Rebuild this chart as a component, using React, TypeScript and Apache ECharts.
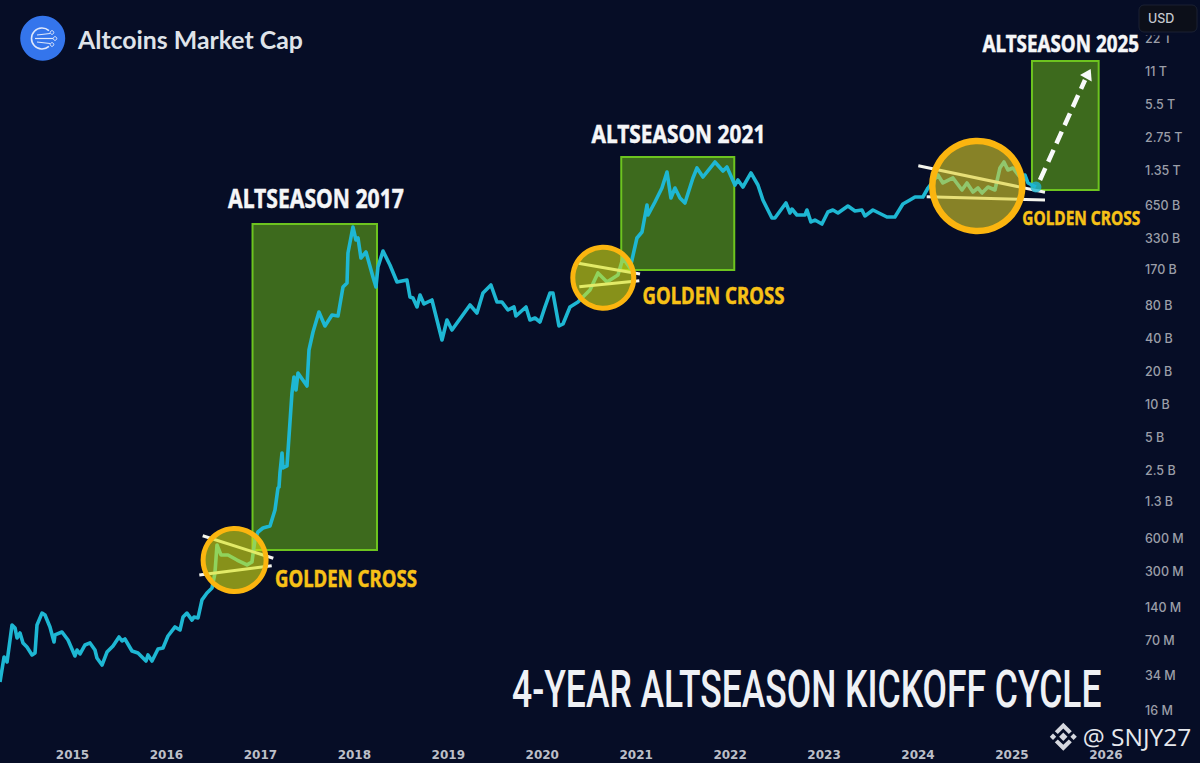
import React, { useEffect, useRef } from "react";
import * as echarts from "echarts";

const BG = "#060d26";
const LINE = "#1eb7d3";

// Decimal years of each point of the altcoin market cap line
const years = [
  2014.228, 2014.271, 2014.303, 2014.356, 2014.388, 2014.409, 2014.441, 2014.473, 2014.515, 2014.569,
  2014.601, 2014.622, 2014.675, 2014.707, 2014.76, 2014.803, 2014.813, 2014.888, 2014.952, 2015.026,
  2015.048, 2015.08, 2015.133, 2015.186, 2015.239, 2015.26, 2015.314, 2015.367, 2015.431, 2015.495,
  2015.527, 2015.558, 2015.633, 2015.697, 2015.782, 2015.803, 2015.846, 2015.91, 2015.963, 2016.016,
  2016.091, 2016.144, 2016.176, 2016.218, 2016.272, 2016.293, 2016.336, 2016.378, 2016.431, 2016.485,
  2016.516, 2016.538, 2016.58, 2016.655, 2016.751, 2016.857, 2016.91, 2016.942, 2016.974, 2017.027,
  2017.102, 2017.155, 2017.187, 2017.198, 2017.208, 2017.23, 2017.24, 2017.283, 2017.336, 2017.357,
  2017.379, 2017.4, 2017.496, 2017.517, 2017.56, 2017.623, 2017.687, 2017.762, 2017.826, 2017.879,
  2017.922, 2017.932, 2017.985, 2018.017, 2018.039, 2018.07, 2018.124, 2018.198, 2018.23, 2018.251,
  2018.305, 2018.379, 2018.454, 2018.56, 2018.592, 2018.624, 2018.667, 2018.699, 2018.741, 2018.826,
  2018.933, 2018.986, 2019.039, 2019.231, 2019.305, 2019.369, 2019.454, 2019.518, 2019.571, 2019.635,
  2019.699, 2019.72, 2019.827, 2019.869, 2019.923, 2019.976, 2020.029, 2020.082, 2020.114, 2020.178,
  2020.221, 2020.295, 2020.38, 2020.508, 2020.593, 2020.689, 2020.806, 2020.859, 2020.934, 2020.955,
  2021.008, 2021.062, 2021.115, 2021.126, 2021.2, 2021.274, 2021.328, 2021.37, 2021.413, 2021.466,
  2021.519, 2021.604, 2021.647, 2021.711, 2021.838, 2021.924, 2021.966, 2022.051, 2022.083, 2022.136,
  2022.222, 2022.296, 2022.349, 2022.445, 2022.477, 2022.594, 2022.637, 2022.658, 2022.711, 2022.797,
  2022.818, 2022.86, 2022.903, 2022.977, 2023.041, 2023.094, 2023.148, 2023.254, 2023.329, 2023.403,
  2023.435, 2023.52, 2023.669, 2023.754, 2023.839, 2023.914, 2023.968, 2024.052, 2024.106, 2024.212,
  2024.265, 2024.372, 2024.468, 2024.521, 2024.585, 2024.638, 2024.681, 2024.745, 2024.819, 2024.872,
  2024.915, 2024.957, 2025.01, 2025.085, 2025.138, 2025.17, 2025.255,
];

// Market cap in millions of USD
const capMillions = [
  29.4, 49.7, 44.8, 97.4, 91.5, 74.1, 82.4, 66.8, 61.3, 51.9,
  54.1, 97.4, 125, 120, 93.4, 68.2, 79, 84.1, 71.1, 50.8,
  57.6, 53, 64, 66.8, 57.6, 48.7, 42, 55.2, 62.7, 75.7,
  69.6, 72.6, 56.4, 54.1, 45.7, 51.9, 45.7, 58.8, 60.1, 77.3,
  93.4, 87.7, 115, 125, 108, 115, 113, 165, 191, 212,
  290, 523, 424, 424, 381, 344, 366, 581, 687, 747,
  779, 1091, 1731, 1767, 2372, 3611, 2636, 2748, 12730, 17830,
  13560, 19380, 14750, 31410, 45840, 69800, 52000, 65536, 64160, 118000,
  128300, 240900, 416000, 316700, 330300, 216900, 246000, 145600, 118000, 179600,
  251300, 187300, 131072, 136700, 95600, 93650, 77530, 99750, 82580, 89790,
  38770, 58980, 47810, 80870, 68350, 104000, 123000, 86120, 86120, 72810,
  77530, 64160, 77530, 58980, 61510, 56560, 77530, 104000, 104000, 52000,
  54230, 77530, 86120, 110800, 158300, 131072, 151800, 216900, 175900, 208000,
  330300, 374600, 660600, 535300, 703600, 943700, 1321000, 764900, 943700, 764900,
  688900, 1165000, 1437000, 1189000, 1629000, 1349000, 1467000, 1005000, 1117000, 963700,
  1294000, 1005000, 733500, 502600, 502600, 688900, 558400, 607100, 535300, 535300,
  594500, 462200, 481800, 443000, 570400, 594500, 558400, 647000, 582500, 594500,
  524288, 594500, 513300, 513300, 674800, 733500, 781200, 781200, 943700, 1240000,
  1048576, 1165000, 905000, 1048576, 867700, 943700, 849900, 963700, 905000, 1437000,
  1629000, 1378000, 1437000, 1189000, 1240000, 1048576, 963700,
];

// Axis ticks
const yearTicks = [2015, 2016, 2017, 2018, 2019, 2020, 2021, 2022, 2023, 2024, 2025, 2026];
const capTicks = [16, 34, 70, 140, 300, 600, 1300, 2500, 5000, 10000, 20000, 40000, 80000, 170000, 330000, 650000, 1350000, 2750000, 5500000, 11000000, 22000000];
const capTickLabels = ["16 M", "34 M", "70 M", "140 M", "300 M", "600 M", "1.3 B", "2.5 B", "5 B", "10 B", "20 B", "40 B", "80 B", "170 B", "330 B", "650 B", "1.35 T", "2.75 T", "5.5 T", "11 T", "22 T"];

// Altseason windows: [start year, end year, low cap, high cap] in millions
const season2017 = [2016.916, 2018.241, 470.5, 443000];
const season2021 = [2020.841, 2022.044, 168700, 1810000];
const season2025 = [2025.213, 2025.923, 905000, 13600000];
const seasons = [season2017, season2021, season2025];

const FONT_CONDENSED = '"Noto Sans"';

function fitScale(text: string, font: string, width: number) {
  const ctx = document.createElement("canvas").getContext("2d")!;
  ctx.font = font;
  return width / ctx.measureText(text).width;
}

function fitText(text: string, x: number, yCenter: number, width: number, weight: string, size: number, family: string, fill: string, heavy = 0) {
  const font = `${weight} ${size}px ${family}`;
  return {
    type: "text",
    x,
    y: yCenter,
    scaleX: fitScale(text, font, width),
    z: 70,
    silent: true,
    style: { text, font, fill, stroke: heavy ? fill : undefined, lineWidth: heavy, textAlign: "left", textVerticalAlign: "middle", textBaseline: "middle" },
  };
}

function trendLine(x1: number, y1: number, x2: number, y2: number) {
  return {
    type: "line",
    z: 50,
    silent: true,
    shape: { x1, y1, x2, y2 },
    style: { stroke: "#f4f5ee", lineWidth: 3 },
  };
}

function ring(cx: number, cy: number, r: number, lineWidth: number, fill: string) {
  return {
    type: "circle",
    z: 60,
    silent: true,
    shape: { cx, cy, r },
    style: { fill, stroke: "#fbb50f", lineWidth },
  };
}

function buildGraphics() {
  const gold = "#f7c117";
  const white = "#f5f6f8";
  const grey = "#d6d8df";
  return [
    // logo
    { type: "circle", z: 70, silent: true, shape: { cx: 42.7, cy: 38.3, r: 22.5 }, style: { fill: "#3475ec" } },
    { type: "arc", z: 71, silent: true, shape: { cx: 42, cy: 38.5, r: 10.5, startAngle: 0.85, endAngle: Math.PI * 2 - 0.85, clockwise: true }, style: { stroke: "#dfe8fb", lineWidth: 1.6, fill: "none" } },
    { type: "line", z: 71, silent: true, shape: { x1: 37, y1: 35, x2: 50, y2: 33.5 }, style: { stroke: "#dfe8fb", lineWidth: 1.2 } },
    { type: "line", z: 71, silent: true, shape: { x1: 35, y1: 38.5, x2: 53, y2: 38.5 }, style: { stroke: "#dfe8fb", lineWidth: 1.2 } },
    { type: "line", z: 71, silent: true, shape: { x1: 37, y1: 42, x2: 50, y2: 43.5 }, style: { stroke: "#dfe8fb", lineWidth: 1.2 } },
    { type: "circle", z: 71, silent: true, shape: { cx: 52, cy: 32.5, r: 1.8 }, style: { fill: "none", stroke: "#dfe8fb", lineWidth: 1 } },
    { type: "circle", z: 71, silent: true, shape: { cx: 55, cy: 38.5, r: 1.8 }, style: { fill: "none", stroke: "#dfe8fb", lineWidth: 1 } },
    { type: "circle", z: 71, silent: true, shape: { cx: 52, cy: 44.5, r: 1.8 }, style: { fill: "none", stroke: "#dfe8fb", lineWidth: 1 } },
    fitText("Altcoins Market Cap", 78, 38.5, 225, "700", 25, "Lato", "#dfe3e9"),

    // strip under the USD box hiding the top of the last tick label
    { type: "rect", z: 64, silent: true, shape: { x: 1141, y: 32, width: 50, height: 3.5 }, style: { fill: BG } },
    // USD box
    { type: "rect", z: 65, silent: true, shape: { x: 1139, y: 5, width: 58, height: 27, r: 5 }, style: { fill: "#0c0f19", stroke: "#1a2133", lineWidth: 1 } },
    { type: "text", z: 66, silent: true, x: 1148, y: 18.5, style: { text: "USD", font: "500 12.5px Inter", fill: "#c6c9d0", textVerticalAlign: "middle", textBaseline: "middle" } },

    // trend lines and circles
    trendLine(202.7, 535.7, 273.3, 558.3),
    trendLine(199.3, 575, 271.7, 565.7),
    ring(234.6, 560, 31.5, 5, "rgba(215,228,20,0.62)"),
    trendLine(578.3, 263.3, 640, 274),
    trendLine(579.3, 286.7, 639.3, 280.7),
    ring(603.3, 277.7, 30.5, 5, "rgba(215,228,20,0.62)"),
    trendLine(918.3, 165.7, 1045, 192.3),
    trendLine(926.7, 196.7, 1045, 200),
    ring(977.3, 186, 45, 6.5, "rgba(222,208,40,0.6)"),

    // arrow
    { type: "line", z: 62, silent: true, shape: { x1: 1040, y1: 180, x2: 1085, y2: 80 }, style: { stroke: "#f8f9fa", lineWidth: 4.5, lineDash: [13, 7] } },
    { type: "polygon", z: 62, silent: true, shape: { points: [[1090.7, 69], [1091.7, 81.5], [1080, 75]] }, style: { fill: "#f8f9fa" } },

    // annotations
    fitText("ALTSEASON 2017", 228, 197.5, 176, "700", 26.5, FONT_CONDENSED, white, 0.5),
    fitText("ALTSEASON 2021", 591.5, 133, 174, "700", 25, FONT_CONDENSED, white, 0.5),
    fitText("ALTSEASON 2025", 982.5, 43, 156.5, "700", 22.5, FONT_CONDENSED, white, 0.5),
    fitText("GOLDEN CROSS", 275, 578, 142, "700", 23, FONT_CONDENSED, gold, 0.5),
    fitText("GOLDEN CROSS", 642.5, 295, 142, "700", 23, FONT_CONDENSED, gold, 0.5),
    fitText("GOLDEN CROSS", 1022.3, 217, 118, "700", 20, FONT_CONDENSED, gold, 0.5),
    fitText("4-YEAR ALTSEASON KICKOFF CYCLE", 512, 689, 590, "500", 52, "Roboto", "#eff1f5"),

    // watermark
    { type: "polygon", z: 70, silent: true, shape: { points: [[1063.3, 732.5], [1067.5, 736.7], [1063.3, 740.9], [1059.1, 736.7]] }, style: { fill: grey } },
    { type: "polygon", z: 70, silent: true, shape: { points: [[1053, 733.5], [1056.2, 736.7], [1053, 739.9], [1049.8, 736.7]] }, style: { fill: grey } },
    { type: "polygon", z: 70, silent: true, shape: { points: [[1073.6, 733.5], [1076.8, 736.7], [1073.6, 739.9], [1070.4, 736.7]] }, style: { fill: grey } },
    { type: "polygon", z: 70, silent: true, shape: { points: [[1063.3, 722.7], [1071.8, 731.2], [1068.8, 734], [1063.3, 728.6], [1057.8, 734], [1054.8, 731.2]] }, style: { fill: grey } },
    { type: "polygon", z: 70, silent: true, shape: { points: [[1063.3, 750.7], [1071.8, 742.2], [1068.8, 739.4], [1063.3, 744.8], [1057.8, 739.4], [1054.8, 742.2]] }, style: { fill: grey } },
    fitText("@ SNJY27", 1082.7, 737, 108.5, "400", 24, "Open Sans", "#e6e8ed"),
  ];
}

export default function App() {
  const ref = useRef<HTMLDivElement>(null);

  useEffect(() => {
    const chart = echarts.init(ref.current!, undefined, { renderer: "svg" });
    const tickLabel = (value: number) => {
      let best = 0;
      let bestD = Infinity;
      capTicks.forEach((t, i) => {
        const d = Math.abs(Math.log(t) - Math.log(value));
        if (d < bestD) {
          bestD = d;
          best = i;
        }
      });
      return capTickLabels[best];
    };
    chart.setOption({
      animation: false,
      backgroundColor: BG,
      grid: { left: 0, right: 60, top: 0, bottom: 18, containLabel: false },
      xAxis: {
        type: "value",
        min: 2014.228,
        max: 2026.363,
        axisLine: { show: false },
        axisTick: { show: false },
        splitLine: { show: false },
        axisLabel: {
          customValues: yearTicks,
          formatter: (v: number) => String(Math.round(v)),
          color: "#bcbfc8",
          fontFamily: "DejaVu Sans",
          fontWeight: 700,
          fontSize: 12,
          margin: 4,
        },
      },
      yAxis: {
        type: "log",
        logBase: 2,
        position: "right",
        min: 7.83,
        max: 48960000,
        axisLine: { show: false },
        axisTick: { show: false },
        splitLine: { show: false },
        minorTick: { show: false },
        axisLabel: {
          customValues: capTicks,
          formatter: (v: number) => tickLabel(v),
          color: "#9b9ea8",
          fontFamily: "Inter",
          fontWeight: 500,
          fontSize: 12.5,
          margin: 5,
        },
      },
      series: [
        {
          type: "line",
          name: "Altcoins Market Cap",
          data: years.map((y, i) => [y, capMillions[i]]),
          showSymbol: false,
          silent: true,
          lineStyle: { color: LINE, width: 3.6, join: "round" },
          z: 5,
          markArea: {
            silent: true,
            z: 1,
            itemStyle: { color: "#3d6a1d", borderColor: "#6dc41f", borderWidth: 2 },
            data: seasons.map((s) => [
              { coord: [s[0], s[3]] },
              { coord: [s[1], s[2]] },
            ]),
          },
        },
        {
          type: "scatter",
          name: "Last",
          data: [[years[years.length - 1], capMillions[capMillions.length - 1]]],
          symbolSize: 11,
          silent: true,
          itemStyle: { color: LINE },
          z: 63,
        },
      ],
      graphic: buildGraphics(),
    });
    return () => chart.dispose();
  }, []);

  return <div ref={ref} style={{ position: "fixed", left: 0, top: 0, width: 1200, height: 763 }} />;
}
